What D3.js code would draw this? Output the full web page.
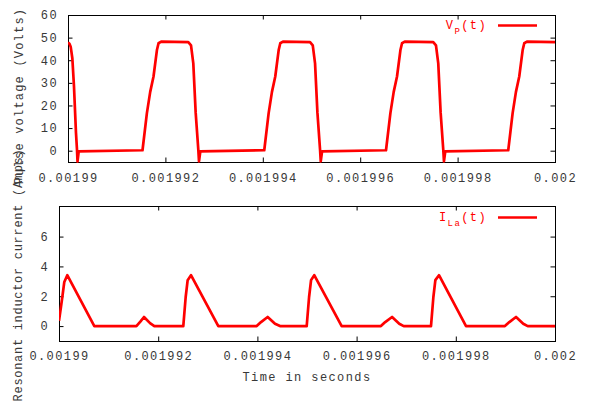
<!DOCTYPE html>
<html>
<head>
<meta charset="utf-8">
<script src="https://d3js.org/d3.v7.min.js"></script>
<style>
  body { margin: 0; background: #fff; }
  svg { display: block; }
  text { font-family: "Liberation Mono", "Courier New", monospace; font-size: 12px; letter-spacing: 1.4px; fill: #383838; }
</style>
</head>
<body>
<svg id="chart" width="590" height="410"></svg>
<script>
// time axis, in seconds
var timeTicks = [0.00199, 0.001992, 0.001994, 0.001996, 0.001998, 0.002];
var timeTickLabels = ["0.00199", "0.001992", "0.001994", "0.001996", "0.001998", "0.002"];

// pulse voltage V_P(t)
var vpTime = [
  0.00199000, 0.00199003, 0.001990055, 0.001990089, 0.001990123, 0.001990164, 0.001990185, 0.001990195, 0.00199022,
  0.00199153, 0.00199162, 0.001991688, 0.001991756, 0.001991826, 0.001991859, 0.001991914,
  0.00199247, 0.001992526, 0.001992573, 0.001992622, 0.001992676, 0.00199269, 0.001992717,
  0.00199403, 0.00199412, 0.001994188, 0.001994256, 0.001994326, 0.001994359, 0.001994414,
  0.00199497, 0.001995026, 0.001995073, 0.001995122, 0.001995176, 0.00199519, 0.001995217,
  0.00199653, 0.00199662, 0.001996688, 0.001996756, 0.001996826, 0.001996859, 0.001996914,
  0.0019975, 0.001997556, 0.001997603, 0.001997652, 0.001997706, 0.00199772, 0.001997747,
  0.00199904, 0.00199913, 0.001999198, 0.001999266, 0.001999336, 0.001999369, 0.001999424,
  0.002
];
var vpVolts = [
  47.9, 47.3, 46.0, 40.9, 28.4, 7.9, 0.3, -4.8, -0.3,
  0.2, 16.6, 26.0, 32.8, 44.5, 47.5, 48.2,
  48.0, 46.6, 38.6, 16.7, 0.3, -4.7, -0.3,
  0.2, 16.6, 26.0, 32.8, 44.5, 47.5, 48.2,
  48.0, 46.6, 38.6, 16.7, 0.3, -4.7, -0.3,
  0.2, 16.6, 26.0, 32.8, 44.5, 47.5, 48.2,
  48.0, 46.6, 38.6, 16.7, 0.3, -4.7, -0.3,
  0.2, 16.6, 26.0, 32.8, 44.5, 47.5, 48.2,
  48.0
];
var vpTicks = [0, 10, 20, 30, 40, 50, 60];

// resonant inductor current I_La(t)
var iTime = [
  0.00199000, 0.00199004, 0.001990067, 0.001990107, 0.001990167, 0.001990712,
  0.00199156, 0.00199164, 0.001991714, 0.001991835, 0.001991922,
  0.001992506, 0.001992554, 0.001992594, 0.001992661, 0.001993212,
  0.001993986, 0.001994073, 0.001994207, 0.001994355, 0.001994456,
  0.001994994, 0.001995042, 0.001995082, 0.001995146, 0.001995699,
  0.00199649, 0.001996577, 0.001996715, 0.00199686, 0.00199695,
  0.0019975, 0.001997548, 0.001997588, 0.001997661, 0.001998206,
  0.00199899, 0.00199908, 0.001999214, 0.00199936, 0.00199945,
  0.002
];
var iAmps = [
  0.35, 1.3, 1.95, 2.96, 3.41, 0.0,
  0.0, 0.3, 0.61, 0.2, 0.0,
  0.0, 1.95, 3.08, 3.41, 0.0,
  0.0, 0.27, 0.61, 0.16, 0.0,
  0.0, 1.95, 3.08, 3.41, 0.0,
  0.0, 0.27, 0.61, 0.16, 0.0,
  0.0, 1.95, 3.08, 3.41, 0.0,
  0.0, 0.27, 0.61, 0.16, 0.0,
  0.0
];
var iTicks = [0, 2, 4, 6];

var svg = d3.select("#chart");

// draws one panel : box, mirrored inward ticks, labels, curve, key
function drawPanel(opt) {
  var x = d3.scaleLinear().domain([0.00199, 0.002]).range([opt.left, opt.right]);
  var y = d3.scaleLinear().domain(opt.yDomain).range([opt.bottom, opt.top]);
  var g = svg.append("g");
  var tickLen = 4.5;

  // x ticks, bottom and top, labels below
  var xAxis = d3.axisBottom(x).tickValues(timeTicks).tickSize(-tickLen).tickPadding(tickLen + 8)
    .tickFormat(function(d, i) { return timeTickLabels[i]; });
  var gx = g.append("g").attr("transform", "translate(0," + opt.bottom + ")").call(xAxis);
  var gxTop = g.append("g").attr("transform", "translate(0," + opt.top + ")")
    .call(d3.axisTop(x).tickValues(timeTicks).tickSize(-tickLen).tickFormat(""));

  // y ticks, left and right
  var yAxis = d3.axisLeft(y).tickValues(opt.yTicks).tickSize(-tickLen).tickPadding(tickLen + 5.5);
  var gy = g.append("g").attr("transform", "translate(" + opt.left + ",0)").call(yAxis);
  var gyRight = g.append("g").attr("transform", "translate(" + opt.right + ",0)")
    .call(d3.axisRight(y).tickValues(opt.yTicks).tickSize(-tickLen).tickFormat(""));

  [gx, gxTop, gy, gyRight].forEach(function(a) {
    a.attr("font-family", null).attr("font-size", null);
    a.select(".domain").remove();
    a.selectAll(".tick line").attr("stroke", "#000");
    a.selectAll(".tick text").attr("fill", null);
  });
  gx.selectAll(".tick text").attr("dy", null).attr("y", opt.xLabelDy);

  // plot border
  g.append("rect")
    .attr("x", opt.left + 0.5).attr("y", opt.top + 0.5)
    .attr("width", opt.right - opt.left).attr("height", opt.bottom - opt.top)
    .attr("fill", "none").attr("stroke", "#000").attr("stroke-width", 1);

  // clip for the curve
  svg.append("clipPath").attr("id", opt.id + "-clip")
    .append("rect").attr("x", opt.left).attr("y", opt.top)
    .attr("width", opt.right - opt.left + 1).attr("height", opt.bottom - opt.top + 1);

  var line = d3.line()
    .x(function(d) { return x(d[0]); })
    .y(function(d) { return y(d[1]); });
  var pts = opt.time.map(function(t, i) { return [t, opt.values[i]]; });

  g.append("path")
    .datum(pts)
    .attr("clip-path", "url(#" + opt.id + "-clip)")
    .attr("d", line)
    .attr("fill", "none")
    .attr("stroke", "#ff0000")
    .attr("stroke-width", 2.7)
    .attr("stroke-linejoin", "round");

  // key
  var key = g.append("text")
    .attr("x", 487).attr("y", opt.keyY)
    .attr("text-anchor", "end")
    .style("fill", "#ff0000");
  key.append("tspan").text(opt.keyMain);
  key.append("tspan").attr("dy", 5).style("font-size", "9px").text(opt.keySub);
  key.append("tspan").attr("dy", -5).text("(t)");
  g.append("line")
    .attr("x1", 498).attr("x2", 537)
    .attr("y1", opt.keyY - 3.5).attr("y2", opt.keyY - 3.5)
    .attr("stroke", "#ff0000").attr("stroke-width", 2.7);

  // y label
  svg.append("text")
    .attr("transform", "translate(" + opt.yLabelX + "," + opt.yLabelY + ") rotate(-90)")
    .attr("text-anchor", "middle")
    .attr("dy", "0.35em")
    .style("letter-spacing", opt.yLabelSpacing + "px")
    .text(opt.yLabel);
}

drawPanel({
  id: "vp", left: 68, right: 555, top: 15, bottom: 162,
  yDomain: [-5, 60], yTicks: vpTicks,
  time: vpTime, values: vpVolts,
  xLabelDy: 19.5,
  keyMain: "V", keySub: "P", keyY: 29,
  yLabel: "Pulse voltage (Volts)", yLabelX: 18.5, yLabelY: 96, yLabelSpacing: 1.2
});

drawPanel({
  id: "ila", left: 59, right: 555, top: 206, bottom: 341,
  yDomain: [-1, 8.05], yTicks: iTicks,
  time: iTime, values: iAmps,
  xLabelDy: 18.5,
  keyMain: "I", keySub: "La", keyY: 221,
  yLabel: "Resonant inductor current (Amps)", yLabelX: 18, yLabelY: 275, yLabelSpacing: 0.7
});

// x axis title
svg.append("text")
  .attr("x", 307).attr("y", 380.5)
  .attr("text-anchor", "middle")
  .text("Time in seconds");
</script>
</body>
</html>
